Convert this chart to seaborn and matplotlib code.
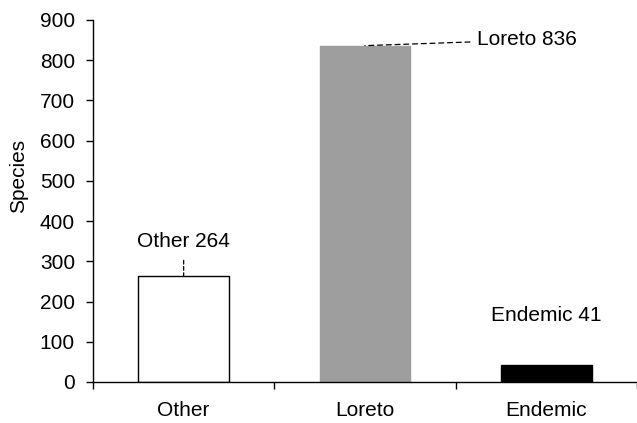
import numpy as np
import pandas as pd
import matplotlib
matplotlib.use("Agg")
import matplotlib.pyplot as plt
import seaborn as sns

# -------------------- Data --------------------
categories = ["Other", "Loreto", "Endemic"]
species = [264, 836, 41]
bar_colors = ["#ffffff", "#9e9e9e", "#000000"]
labels = ["Other 264", "Loreto 836", "Endemic 41"]

df = pd.DataFrame({"category": categories, "species": species})

sns.set_style("ticks")
plt.rcParams["font.family"] = ["Liberation Sans", "DejaVu Sans"]
plt.rcParams["font.size"] = 15
plt.rcParams["text.color"] = "black"
plt.rcParams["axes.labelcolor"] = "black"
plt.rcParams["xtick.color"] = "black"
plt.rcParams["ytick.color"] = "black"

# -------------------- Plot --------------------
fig = plt.figure(figsize=(6.37, 4.23), dpi=100)
ax = fig.add_axes([0.146, 0.097, 0.854, 0.856])

sns.barplot(data=df, x="category", y="species", hue="category",
            palette=bar_colors, legend=False, width=0.5, ax=ax,
            saturation=1)
for patch, c in zip(ax.patches, bar_colors):
    patch.set_edgecolor("black" if c == "#ffffff" else c)
    patch.set_linewidth(1.0)

ax.set_xlim(-0.5, 2.5)
ax.set_ylim(0, 900)
ax.set_yticks(np.arange(0, 901, 100))
ax.set_xlabel("")
ax.set_ylabel("Species", fontsize=15)
ax.yaxis.set_label_coords(-0.12, 0.57)

ax.set_xticks(range(len(categories)))
ax.set_xticklabels(categories)
ax.tick_params(axis="x", which="major", length=0, pad=14, labelsize=15)
ax.set_xticks([-0.5, 0.5, 1.5, 2.5], minor=True)
ax.tick_params(axis="x", which="minor", length=5, width=1, color="black")
ax.tick_params(axis="y", length=5, width=1, color="black", labelsize=15, pad=8)

for s in ["top", "right"]:
    ax.spines[s].set_visible(False)
for s in ["left", "bottom"]:
    ax.spines[s].set_color("black")
    ax.spines[s].set_linewidth(1.0)

# -------------------- Annotations --------------------
ax.annotate(labels[0], xy=(0, species[0]), xytext=(0, 348),
            ha="center", va="center", fontsize=15,
            arrowprops=dict(arrowstyle="-", linestyle=(0, (3, 2)), color="black",
                            lw=0.9, shrinkA=4, shrinkB=0))
ax.annotate(labels[1], xy=(1, species[1]), xytext=(1.62, 850),
            ha="left", va="center", fontsize=15,
            arrowprops=dict(arrowstyle="-", linestyle=(0, (4, 3)), color="black",
                            lw=0.9, shrinkA=3, shrinkB=0))
ax.text(2, 164, labels[2], ha="center", va="center", fontsize=15)

fig.savefig("out.png", dpi=100)
plt.close(fig)
